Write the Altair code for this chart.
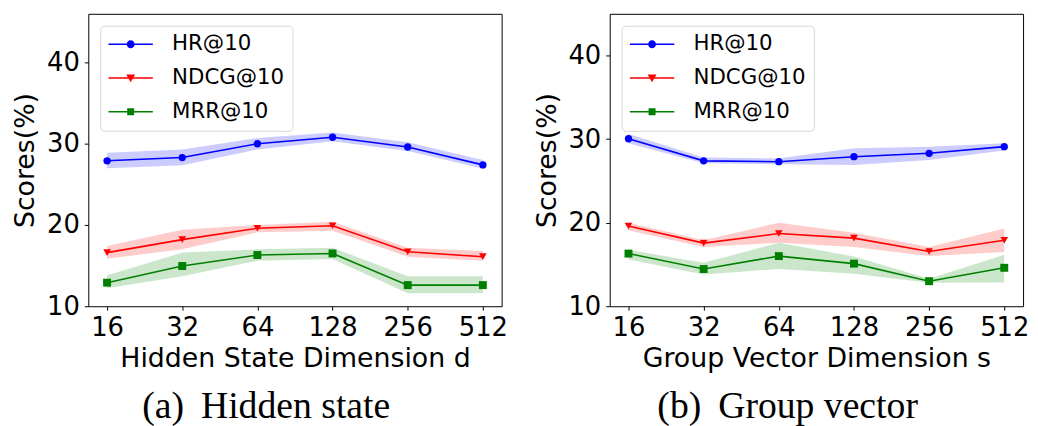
import altair as alt
import pandas as pd

dims = ["16", "32", "64", "128", "256", "512"]
series = ["HR@10", "NDCG@10", "MRR@10"]
colors = ["#0000ff", "#ff0000", "#008000"]

# (a) Hidden state
a_hr = [27.9, 28.3, 30.0, 30.8, 29.6, 27.4]
a_hr_lo = [27.0, 27.35, 29.3, 30.3, 29.1, 26.95]
a_hr_hi = [28.9, 29.3, 30.7, 31.4, 30.2, 28.0]
a_ndcg = [16.6, 18.2, 19.6, 19.9, 16.7, 16.1]
a_ndcg_lo = [15.85, 17.0, 19.1, 19.3, 16.1, 15.6]
a_ndcg_hi = [17.4, 19.4, 20.0, 20.4, 17.2, 16.8]
a_mrr = [12.9, 14.95, 16.3, 16.5, 12.6, 12.6]
a_mrr_lo = [12.2, 13.7, 15.6, 15.8, 11.6, 11.6]
a_mrr_hi = [13.8, 16.6, 17.0, 17.2, 13.7, 13.7]

# (b) Group vector
b_hr = [30.05, 27.4, 27.3, 27.9, 28.3, 29.1]
b_hr_lo = [29.5, 27.1, 27.0, 26.9, 27.5, 28.65]
b_hr_hi = [30.6, 27.8, 27.7, 28.9, 29.1, 29.5]
b_ndcg = [19.6, 17.55, 18.7, 18.15, 16.55, 17.9]
b_ndcg_lo = [19.05, 17.1, 17.6, 17.1, 16.0, 16.5]
b_ndcg_hi = [20.0, 17.9, 20.0, 18.8, 17.1, 19.3]
b_mrr = [16.3, 14.45, 16.0, 15.1, 13.0, 14.6]
b_mrr_lo = [15.6, 13.8, 14.45, 13.9, 12.8, 12.85]
b_mrr_hi = [16.75, 15.2, 17.6, 15.95, 13.3, 16.15]


def make_df(vals):
    rows = []
    for name, (v, lo, hi) in zip(series, vals):
        for d, a, b, c in zip(dims, v, lo, hi):
            rows.append({"dim": d, "series": name, "key": name, "value": a, "lo": b, "hi": c})
    return pd.DataFrame(rows)


df_a = make_df([(a_hr, a_hr_lo, a_hr_hi), (a_ndcg, a_ndcg_lo, a_ndcg_hi), (a_mrr, a_mrr_lo, a_mrr_hi)])
df_b = make_df([(b_hr, b_hr_lo, b_hr_hi), (b_ndcg, b_ndcg_lo, b_ndcg_hi), (b_mrr, b_mrr_lo, b_mrr_hi)])

FONT = "DejaVu Sans"

# legend symbols: a thin line with the marker in its middle (clockwise sub-paths)
line_part = "M-2.8,-0.094H2.8V0.094H-2.8Z"
leg_shapes = [
    line_part + "M-0.5,0A0.5,0.5 0 1,1 0.5,0A0.5,0.5 0 1,1 -0.5,0Z",
    line_part + "M-0.56,-0.45L0.56,-0.45L0,0.55Z",
    line_part + "M-0.44,-0.44H0.44V0.44H-0.44Z",
]


def panel(df, xtitle, caption, ymax):
    base = alt.Chart(df)
    xenc = alt.X(
        "dim:O",
        sort=dims,
        scale=alt.Scale(type="point", padding=0.25),
        axis=alt.Axis(title=xtitle, labelAngle=0, titlePadding=5),
    )
    yscale = alt.Scale(domain=[10, ymax], nice=False, zero=False)
    yaxis = alt.Axis(title="Scores(%)", values=[10, 20, 30, 40], titlePadding=7)
    cscale = alt.Scale(domain=series, range=colors)

    band = base.mark_area(opacity=0.2).encode(
        x=xenc,
        y=alt.Y("lo:Q", scale=yscale, axis=yaxis),
        y2="hi:Q",
        color=alt.Color("series:N", scale=cscale, legend=None),
    )
    line = base.mark_line(strokeWidth=1.6).encode(
        x=xenc,
        y=alt.Y("value:Q", scale=yscale, axis=yaxis),
        color=alt.Color("series:N", scale=cscale, legend=None),
    )
    pts = base.mark_point(filled=True, opacity=1).encode(
        x=xenc,
        y=alt.Y("value:Q", scale=yscale, axis=yaxis),
        color=alt.Color("series:N", scale=cscale, legend=None),
        shape=alt.Shape(
            "series:N",
            scale=alt.Scale(domain=series, range=["circle", "triangle-down", "square"]),
            legend=None,
        ),
        size=alt.Size("series:N", scale=alt.Scale(domain=series, range=[55, 64, 45]), legend=None),
    )
    leg = alt.Legend(
        orient="top-left",
        offset=12,
        padding=8,
        cornerRadius=4,
        strokeColor="#d6d6d6",
        fillColor="rgba(255,255,255,0.8)",
        labelFont=FONT,
        labelFontSize=21.5,
        labelColor="black",
        symbolSize=256,
        symbolStrokeWidth=0,
        symbolOffset=12,
        labelOffset=31,
        rowPadding=11,
        title=None,
    )
    legend_layer = base.mark_point(filled=True, opacity=1).transform_filter("false").encode(
        color=alt.Color("key:N", scale=cscale, legend=leg),
        shape=alt.Shape("key:N", scale=alt.Scale(domain=series, range=leg_shapes), legend=leg),
    )
    return (
        alt.layer(band, line, pts, legend_layer)
        .resolve_scale(color="independent", shape="independent", size="independent")
        .properties(
            width=417,
            height=295,
            title=alt.TitleParams(
                caption,
                orient="bottom",
                font="Liberation Serif",
                fontSize=38,
                fontWeight="normal",
                color="black",
                anchor="middle",
                frame="group",
                offset=17,
                dx=-29,
            ),
        )
    )


left = panel(df_a, "Hidden State Dimension d", "(a) \u2009Hidden state", 46)
right = panel(df_b, "Group Vector Dimension s", "(b) \u2009Group vector", 45)

chart = (
    alt.hconcat(left, right, spacing=24)
    .properties(padding={"left": 3, "top": 3, "right": 0, "bottom": 0}, background="white")
    .configure_view(stroke="black", strokeWidth=1)
    .configure_axis(
        labelFont=FONT,
        labelFontSize=26,
        labelColor="black",
        titleFont=FONT,
        titleFontSize=27,
        titleFontWeight="normal",
        titleColor="black",
        tickColor="black",
        tickSize=4,
        tickWidth=1,
        labelPadding=5,
        domain=False,
        grid=False,
    )
)

chart.save("out.html", embed_options={"renderer": "svg", "actions": False})
